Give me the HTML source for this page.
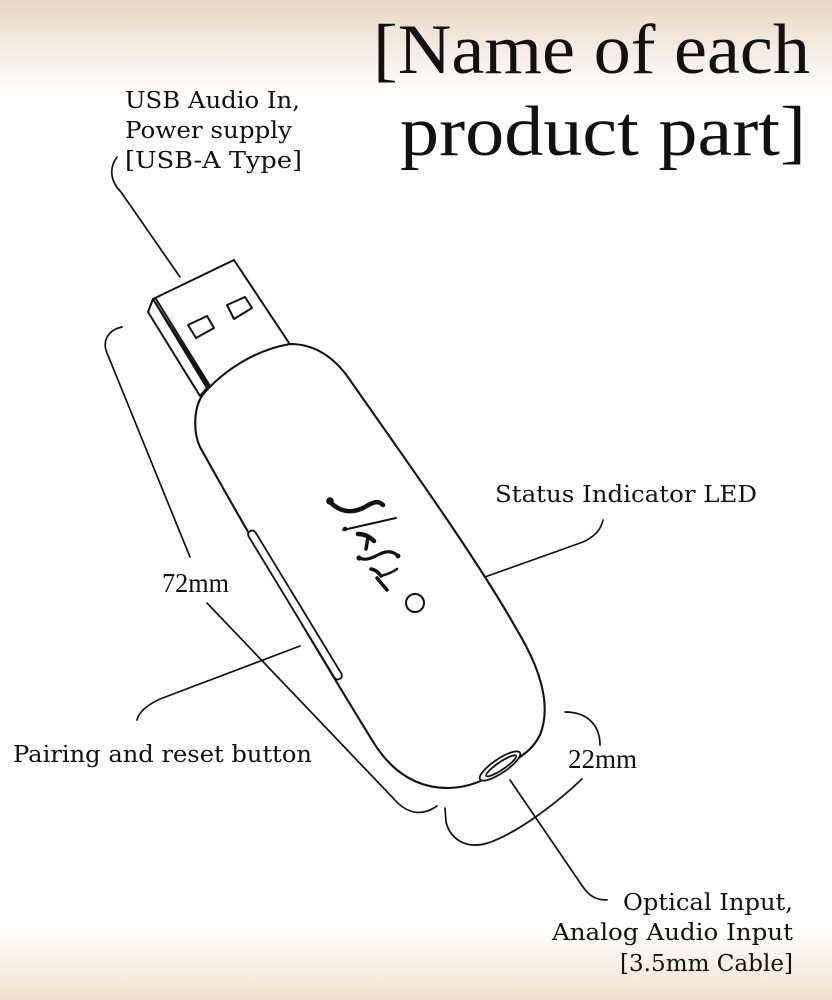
<!DOCTYPE html>
<html>
<head>
<meta charset="utf-8">
<style>
  html,body{margin:0;padding:0;background:#fff;}
  body{width:832px;height:1000px;overflow:hidden;}
  svg{display:block;}
  .lbl{font-family:"DejaVu Serif","Liberation Serif",serif;font-size:23px;fill:#111;}
  .num{font-family:"Liberation Serif",serif;font-size:27px;fill:#111;}
  .ttl{font-family:"Liberation Serif",serif;font-size:71px;fill:#111;}
</style>
</head>
<body>
<svg width="832" height="1000" viewBox="0 0 832 1000" xmlns="http://www.w3.org/2000/svg">
  <defs>
    <linearGradient id="gt" x1="0" y1="0" x2="0" y2="1">
      <stop offset="0" stop-color="#e8d8c5"/>
      <stop offset="1" stop-color="#ffffff"/>
    </linearGradient>
    <linearGradient id="gb" x1="0" y1="0" x2="0" y2="1">
      <stop offset="0" stop-color="#ffffff"/>
      <stop offset="1" stop-color="#f0e2cf"/>
    </linearGradient>
  </defs>
  <rect x="0" y="0" width="832" height="1000" fill="#fff"/>
  <rect x="0" y="0" width="832" height="95" fill="url(#gt)"/>
  <rect x="0" y="925" width="832" height="75" fill="url(#gb)"/>

  <!-- Title -->
  <text class="ttl" x="373" y="73" textLength="437" lengthAdjust="spacingAndGlyphs">[Name of each</text>
  <text class="ttl" x="400" y="155" textLength="406" lengthAdjust="spacingAndGlyphs">product part]</text>

  <!-- Labels -->
  <text class="lbl" x="125" y="108" textLength="175" lengthAdjust="spacingAndGlyphs">USB Audio In,</text>
  <text class="lbl" x="125" y="138" textLength="167" lengthAdjust="spacingAndGlyphs">Power supply</text>
  <text class="lbl" x="125" y="168" textLength="177" lengthAdjust="spacingAndGlyphs">[USB-A Type]</text>

  <text class="lbl" x="495" y="502" textLength="262" lengthAdjust="spacingAndGlyphs">Status Indicator LED</text>
  <text class="lbl" x="13" y="762" textLength="299" lengthAdjust="spacingAndGlyphs">Pairing and reset button</text>

  <text class="num" x="162" y="592" textLength="67" lengthAdjust="spacingAndGlyphs">72mm</text>
  <text class="num" x="568" y="768" textLength="69" lengthAdjust="spacingAndGlyphs">22mm</text>

  <text class="lbl" x="623" y="910" textLength="170" lengthAdjust="spacingAndGlyphs">Optical Input,</text>
  <text class="lbl" x="552" y="940" textLength="241" lengthAdjust="spacingAndGlyphs">Analog Audio Input</text>
  <text class="lbl" x="620" y="971" textLength="173" lengthAdjust="spacingAndGlyphs">[3.5mm Cable]</text>

  <g fill="none" stroke="#111" stroke-width="1.7" stroke-linecap="round" stroke-linejoin="round">
    <!-- USB leader -->
    <path d="M117,157 C109,168 110,181 121,192 L180,277"/>
    <!-- 72mm bracket upper -->
    <path d="M122,327 C108,330 102,341 107,353 L190,557"/>
    <!-- 72mm bracket lower -->
    <path d="M207,603 L393,798 C405,812 420,818 437,806"/>
    <!-- 22mm bracket upper -->
    <path d="M565,712 C590,712 600,728 600,745"/>
    <!-- 22mm bracket lower -->
    <path d="M582,779 C560,800 520,832 488,843 C465,850 450,838 446,822 L445,808"/>
    <!-- Status LED leader -->
    <path d="M440,593 L583,542 C594,537 601,530 603,520"/>
    <!-- Pairing leader -->
    <path d="M300,646 L160,699 C147,705 139,712 137,720"/>
    <!-- Optical leader -->
    <path d="M510,780 L583,887 C590,897 597,900 607,900"/>
  </g>

  <!-- USB connector -->
  <g fill="#fff" stroke="#111" stroke-width="2" stroke-linejoin="round" stroke-linecap="round">
    <path d="M153,299 L234,260 L295,352 L212,392 Z"/>
    <path d="M153,299 L148,312 L200,396 L207,388 Z"/>
    <path d="M156,299 L210,386" fill="none"/>
    <path d="M188,325 L207,316 L214,328 L196,338 Z"/>
    <path d="M227,305 L245,297 L252,308 L234,319 Z"/>
  </g>

  <!-- Body -->
  <path d="M290,344 C315,344 335,358 350,380 C395,445 475,555 517,630 C540,668 552,705 540,735 C533,748 527,752 520,757 C500,773 475,788 448,788 C415,788 390,770 372,740 C330,672 260,555 200,447 C193,432 193,405 205,392 C225,370 255,350 290,344 Z"
        fill="#fff" stroke="#111" stroke-width="2.1" stroke-linejoin="round"/>

  <!-- Pairing button -->
  <rect x="-86.5" y="-4" width="173" height="8" rx="4" ry="4" fill="#fff" stroke="#111" stroke-width="1.8"
        transform="translate(295,605) rotate(58.7)"/>

  <!-- LED -->
  <circle cx="415" cy="603" r="9" fill="#fff" stroke="#111" stroke-width="2"/>

  <!-- Port -->
  <g transform="translate(500,766) rotate(-34)" fill="#fff" stroke="#111" stroke-width="1.8">
    <ellipse cx="0" cy="0" rx="24" ry="7"/>
    <ellipse cx="1" cy="0.5" rx="18" ry="3.8"/>
  </g>

  <!-- Logo (brush strokes) -->
  <g fill="none" stroke="#111" stroke-linecap="round" stroke-linejoin="round">
    <path d="M330,502 C340,512 352,514 365,507 C373,502 378,500 383,505" stroke-width="4.5"/>
    <path d="M343,530 L396,518" stroke-width="2"/>
    <path d="M358,534 C365,534 370,537 374,541" stroke-width="4.5"/>
    <path d="M368,537 L366,549" stroke-width="3.5"/>
    <path d="M359,558 C366,561 372,558 380,554 C388,550 394,552 398,556" stroke-width="3.2"/>
    <path d="M371,569 C376,570 379,573 381,576" stroke-width="3.5"/>
    <path d="M381,576 C388,574 393,572 397,569" stroke-width="2.5"/>
    <path d="M377,578 L387,590" stroke-width="3.5"/>
  </g>
  <g fill="#111">
    <circle cx="330" cy="501" r="3.8"/>
    <circle cx="345" cy="529" r="2.3"/>
    <circle cx="359" cy="558" r="2.6"/>
    <circle cx="398" cy="556" r="2.4"/>
  </g>
</svg>
</body>
</html>
